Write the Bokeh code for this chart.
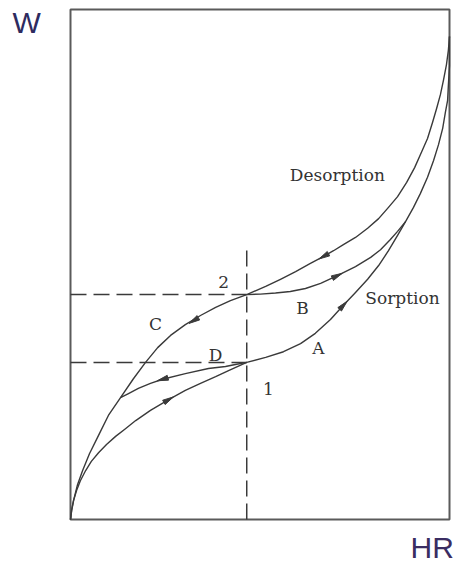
import math
from bokeh.plotting import figure
from bokeh.models import Range1d, ColumnDataSource
from bokeh.core.properties import value
from bokeh.embed import file_html
from bokeh.resources import INLINE

# ---------------- data: HR in % of axis, W in % of axis ----------------
desorption_hr = [100.0, 99.7, 99.2, 98.4, 97.6, 96.6, 95.5, 94.2, 92.6, 90.8, 88.7, 86.3,
                 83.9, 81.3, 78.4, 75.2, 72.0, 69.4, 66.8, 63.3, 59.4, 55.4, 51.5, 46.5,
                 42.2, 38.3, 34.3, 30.3, 26.4, 23.0, 19.8, 16.6, 13.2, 10.0, 7.4, 5.0,
                 3.2, 1.8, 0.8, 0.3, 0.0]
desorption_w = [94.7, 92.0, 89.2, 86.1, 83.3, 80.6, 77.8, 74.7, 72.0, 69.0, 66.1, 63.3,
                61.2, 59.0, 57.1, 55.3, 53.9, 52.7, 51.6, 50.2, 48.6, 47.1, 45.7, 44.1,
                42.9, 41.6, 40.0, 38.2, 36.1, 33.7, 30.8, 27.6, 23.9, 20.4, 16.5, 12.9,
                9.6, 6.7, 3.7, 1.8, 0.0]

sorption_hr = [0.0, 0.3, 0.8, 1.6, 2.6, 4.0, 5.5, 7.4, 9.5, 11.9, 14.5, 17.2, 21.1, 25.9,
               30.3, 34.3, 38.3, 41.7, 46.5, 51.5, 56.2, 60.7, 64.6, 68.6, 72.0, 75.2,
               78.4, 81.3, 83.9, 86.3, 88.4, 90.5, 92.3, 94.2, 95.8, 97.1, 98.2, 98.9,
               99.5, 99.7, 100.0, 100.0]
sorption_w = [0.0, 1.8, 3.7, 5.7, 7.6, 9.6, 11.4, 13.1, 14.7, 16.3, 17.8, 19.4, 21.4, 23.5,
              25.3, 26.7, 28.0, 29.2, 30.8, 31.8, 32.9, 34.5, 36.5, 39.2, 42.0, 44.5,
              47.1, 49.8, 52.7, 55.7, 58.4, 61.2, 63.9, 67.1, 70.4, 73.5, 76.7, 79.8,
              82.2, 85.1, 89.0, 94.7]

scan_b_hr = [46.5, 50.1, 54.1, 58.0, 62.0, 66.0, 70.4, 75.2, 79.2, 81.8, 84.4, 86.3, 88.4]
scan_b_w = [44.1, 44.2, 44.4, 44.7, 45.3, 46.3, 47.8, 49.6, 51.4, 52.9, 54.9, 56.5, 58.4]

scan_d_hr = [46.5, 43.5, 40.9, 36.4, 30.3, 24.3, 21.1, 17.9, 15.3, 13.2]
scan_d_w = [30.8, 30.4, 30.0, 29.6, 28.6, 27.5, 26.7, 25.7, 24.7, 23.9]

point_names = ["1", "2"]
point_hr = [46.5, 46.5]
point_w = [30.8, 44.1]
vertical_top_w = 53.1

arrow_hr = [66.8, 70.4, 72.0, 32.5, 24.3, 25.9]
arrow_w = [51.6, 47.8, 42.0, 39.0, 27.5, 23.5]
arrow_dir_deg = [209, 26, 47, 211, 196, 30]

label_text = ["Desorption", "Sorption", "B", "A", "C", "D", "2", "1"]
label_hr = [70.4, 87.6, 61.2, 65.4, 22.4, 38.3, 40.4, 52.2]
label_w = [67.5, 43.5, 41.4, 33.7, 38.4, 32.2, 46.5, 25.5]

axis_names = ["W", "HR"]

# ---------------- figure ----------------
PX_PER_HR, PX_PER_W = 3.79, 5.10
p = figure(width=453, height=563, output_backend="svg", toolbar_location=None,
           x_range=Range1d(-70 / PX_PER_HR, 383 / PX_PER_HR),
           y_range=Range1d(-44 / PX_PER_W, 519 / PX_PER_W),
           x_axis_location=None, y_axis_location=None)
p.min_border = 0
p.min_border_left = p.min_border_right = p.min_border_top = p.min_border_bottom = 0
p.grid.visible = False
p.outline_line_color = None
p.background_fill_color = "white"
p.border_fill_color = "white"

ink = "#3a3a3a"
dash = "16 7"

# box around the diagram (axis extents 0..100)
p.quad(left=[0], right=[100], bottom=[0], top=[100], fill_alpha=0,
       line_color="#5a5a5a", line_width=2)

# dashed guide lines through points 1 and 2
p.segment(x0=[0, 0], y0=point_w, x1=point_hr, y1=point_w,
          line_color=ink, line_width=1.5, line_dash=dash)
p.segment(x0=[point_hr[0]], y0=[0], x1=[point_hr[0]], y1=[vertical_top_w],
          line_color=ink, line_width=1.5, line_dash=dash)

# curves
for xs, ys in [(desorption_hr, desorption_w), (sorption_hr, sorption_w),
               (scan_b_hr, scan_b_w), (scan_d_hr, scan_d_w)]:
    p.line(xs, ys, line_color=ink, line_width=1.4, line_join="round")

# arrow heads (elongated triangles along the direction of travel)
L, Wd = 11, 5
pxs, pys = [], []
for x, y, d in zip(arrow_hr, arrow_w, arrow_dir_deg):
    a = math.radians(d)
    ux, uy = math.cos(a), math.sin(a)
    nx, ny = -uy, ux
    tip = (x + ux * L / 2 / PX_PER_HR, y + uy * L / 2 / PX_PER_W)
    b1 = (x - ux * L / 2 / PX_PER_HR + nx * Wd / 2 / PX_PER_HR,
          y - uy * L / 2 / PX_PER_W + ny * Wd / 2 / PX_PER_W)
    b2 = (x - ux * L / 2 / PX_PER_HR - nx * Wd / 2 / PX_PER_HR,
          y - uy * L / 2 / PX_PER_W - ny * Wd / 2 / PX_PER_W)
    pxs.append([tip[0], b1[0], b2[0]])
    pys.append([tip[1], b1[1], b2[1]])
p.patches(pxs, pys, fill_color=ink, line_color=ink, line_width=1)

# in-diagram labels
src = ColumnDataSource(dict(x=label_hr, y=label_w, t=label_text))
p.text(x="x", y="y", text="t", source=src, text_font=value("DejaVu Serif"),
       text_font_size="17px", text_color="#333333",
       text_align="center", text_baseline="middle")

# axis names
p.text(x=[-15.3], y=[97.5], text=[axis_names[0]], text_font=value("Liberation Sans"),
       text_font_size="30px", text_color="#2e2b5f",
       text_align="left", text_baseline="middle")
p.text(x=[89.7], y=[-5.4], text=[axis_names[1]], text_font=value("Liberation Sans"),
       text_font_size="30px", text_color="#3a2d62",
       text_align="left", text_baseline="middle")

open("out.html", "w").write(file_html(p, INLINE))
